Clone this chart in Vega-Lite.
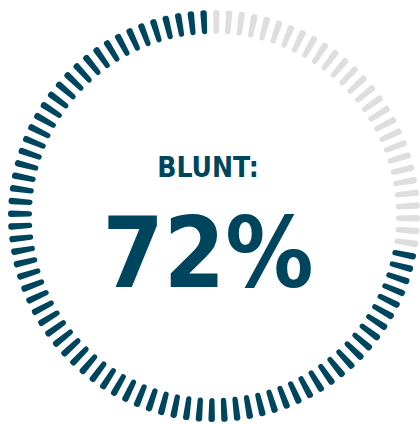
{
  "$schema": "https://vega.github.io/schema/vega-lite/v6.json",
  "width": 420,
  "height": 424,
  "autosize": {"type": "fit", "contains": "padding"},
  "padding": 0,
  "background": "#ffffff",
  "config": {"view": {"stroke": null}},
  "layer": [
    {
      "data": {"values": [
        {"i":0,"s":"rest"},{"i":1,"s":"rest"},{"i":2,"s":"rest"},{"i":3,"s":"rest"},{"i":4,"s":"rest"},
        {"i":5,"s":"rest"},{"i":6,"s":"rest"},{"i":7,"s":"rest"},{"i":8,"s":"rest"},{"i":9,"s":"rest"},
        {"i":10,"s":"rest"},{"i":11,"s":"rest"},{"i":12,"s":"rest"},{"i":13,"s":"rest"},{"i":14,"s":"rest"},
        {"i":15,"s":"rest"},{"i":16,"s":"rest"},{"i":17,"s":"rest"},{"i":18,"s":"rest"},{"i":19,"s":"rest"},
        {"i":20,"s":"rest"},{"i":21,"s":"rest"},{"i":22,"s":"rest"},{"i":23,"s":"rest"},{"i":24,"s":"rest"},
        {"i":25,"s":"rest"},{"i":26,"s":"rest"},{"i":27,"s":"rest"},
        {"i":28,"s":"blunt"},{"i":29,"s":"blunt"},{"i":30,"s":"blunt"},{"i":31,"s":"blunt"},{"i":32,"s":"blunt"},
        {"i":33,"s":"blunt"},{"i":34,"s":"blunt"},{"i":35,"s":"blunt"},{"i":36,"s":"blunt"},{"i":37,"s":"blunt"},
        {"i":38,"s":"blunt"},{"i":39,"s":"blunt"},{"i":40,"s":"blunt"},{"i":41,"s":"blunt"},{"i":42,"s":"blunt"},
        {"i":43,"s":"blunt"},{"i":44,"s":"blunt"},{"i":45,"s":"blunt"},{"i":46,"s":"blunt"},{"i":47,"s":"blunt"},
        {"i":48,"s":"blunt"},{"i":49,"s":"blunt"},{"i":50,"s":"blunt"},{"i":51,"s":"blunt"},{"i":52,"s":"blunt"},
        {"i":53,"s":"blunt"},{"i":54,"s":"blunt"},{"i":55,"s":"blunt"},{"i":56,"s":"blunt"},{"i":57,"s":"blunt"},
        {"i":58,"s":"blunt"},{"i":59,"s":"blunt"},{"i":60,"s":"blunt"},{"i":61,"s":"blunt"},{"i":62,"s":"blunt"},
        {"i":63,"s":"blunt"},{"i":64,"s":"blunt"},{"i":65,"s":"blunt"},{"i":66,"s":"blunt"},{"i":67,"s":"blunt"},
        {"i":68,"s":"blunt"},{"i":69,"s":"blunt"},{"i":70,"s":"blunt"},{"i":71,"s":"blunt"},{"i":72,"s":"blunt"},
        {"i":73,"s":"blunt"},{"i":74,"s":"blunt"},{"i":75,"s":"blunt"},{"i":76,"s":"blunt"},{"i":77,"s":"blunt"},
        {"i":78,"s":"blunt"},{"i":79,"s":"blunt"},{"i":80,"s":"blunt"},{"i":81,"s":"blunt"},{"i":82,"s":"blunt"},
        {"i":83,"s":"blunt"},{"i":84,"s":"blunt"},{"i":85,"s":"blunt"},{"i":86,"s":"blunt"},{"i":87,"s":"blunt"},
        {"i":88,"s":"blunt"},{"i":89,"s":"blunt"},{"i":90,"s":"blunt"},{"i":91,"s":"blunt"},{"i":92,"s":"blunt"},
        {"i":93,"s":"blunt"},{"i":94,"s":"blunt"},{"i":95,"s":"blunt"},{"i":96,"s":"blunt"},{"i":97,"s":"blunt"},
        {"i":98,"s":"blunt"},{"i":99,"s":"blunt"}
      ]},
      "mark": {"type": "arc", "radius": 206, "radius2": 182, "padAngle": 0.023, "cornerRadius": 2.9, "xOffset": 4, "yOffset": 4},
      "encoding": {
        "theta": {"aggregate": "count", "type": "quantitative", "stack": true, "scale": {"range": [-0.02, 6.2632]}},
        "detail": {"field": "i", "type": "ordinal"},
        "order": {"field": "i", "type": "quantitative", "sort": "ascending"},
        "color": {"field": "s", "type": "nominal", "scale": {"domain": ["blunt", "rest"], "range": ["#00455e", "#dedede"]}, "legend": null}
      }
    },
    {
      "data": {"values": [{"label": "BLUNT:"}]},
      "mark": {"type": "text", "font": "DejaVu Sans Condensed, DejaVu Sans, sans-serif", "fontWeight": "bold", "fontSize": 28, "color": "#00455e", "baseline": "alphabetic", "align": "center", "dy": -35, "dx": -2},
      "encoding": {"text": {"field": "label", "type": "nominal"}}
    },
    {
      "data": {"values": [{"label": "72%"}]},
      "mark": {"type": "text", "font": "DejaVu Sans Condensed, DejaVu Sans, sans-serif", "fontWeight": "bold", "fontSize": 98, "color": "#00455e", "baseline": "alphabetic", "align": "center", "dy": 75, "dx": -2},
      "encoding": {"text": {"field": "label", "type": "nominal"}}
    }
  ]
}
